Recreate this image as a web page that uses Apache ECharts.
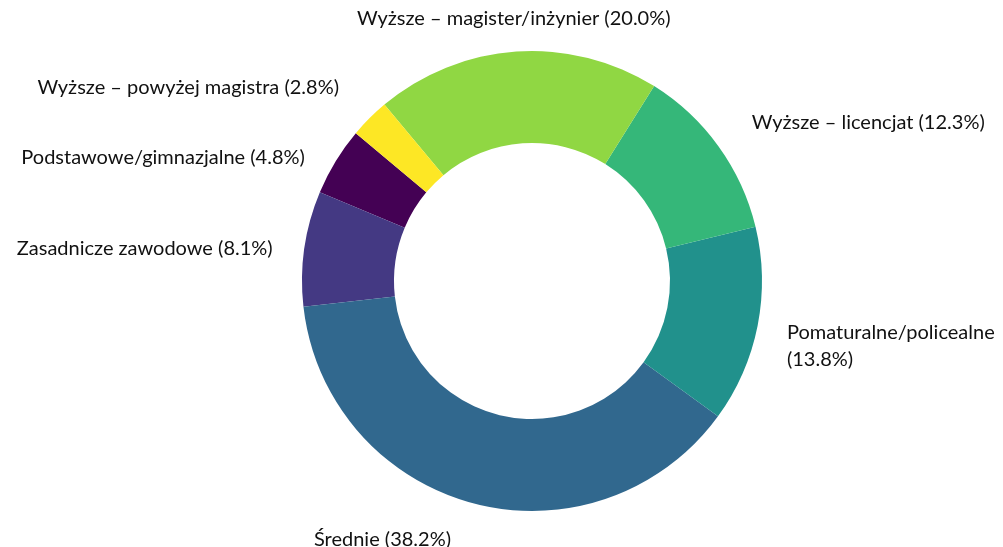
<!DOCTYPE html>
<html>
<head>
<meta charset="utf-8">
<script src="https://cdn.jsdelivr.net/npm/echarts@6/dist/echarts.min.js"></script>
<style>
    html, body { margin: 0; padding: 0; background: #fff; }
    #chart { width: 1003px; height: 547px; }
</style>
</head>
<body>
<div id="chart"></div>
<script>
// udział wykształcenia (%), kolejność jak w danych, rysowane przeciwnie do wskazówek zegara
const categories = [
    "Podstawowe/gimnazjalne",
    "Zasadnicze zawodowe",
    "Średnie",
    "Pomaturalne/policealne",
    "Wyższe – licencjat",
    "Wyższe – magister/inżynier",
    "Wyższe – powyżej magistra"
];
const shares = [4.8, 8.1, 38.2, 13.8, 12.3, 20.0, 2.8];
const colors = ["#440154", "#443983", "#31688e", "#21918c", "#35b779", "#90d743", "#fde725"];

// drobne przesunięcia podpisów [dx, dy], żeby siedziały jak w oryginale
const labelShift = [[0, 15], [4, 5], [-13, 1], [-6, 13], [4, -3], [0, 3], [-5, -5]];

const chart = echarts.init(document.getElementById("chart"));

chart.setOption({
    backgroundColor: "#fff",
    animation: false,
    color: colors,
    series: {
        type: "pie",
        center: [532, 281],
        radius: [138, 230],
        startAngle: 140,
        clockwise: false,
        avoidLabelOverlap: false,
        itemStyle: { borderWidth: 0 },
        label: {
            show: true,
            position: "outside",
            distanceToLabelLine: 0,
            fontFamily: "Lato",
            fontSize: 20,
            lineHeight: 27,
            color: "#111",
            formatter: p => {
                // ten jeden podpis łamie się w oryginale
                const sep = p.name === "Pomaturalne/policealne" ? "\n" : " ";
                return p.name + sep + "(" + p.value.toFixed(1) + "%)";
            }
        },
        labelLine: { show: false, length: 36, length2: 0 },
        labelLayout: p => {
            const s = labelShift[p.dataIndex];
            const out = { dx: s[0], dy: s[1] };
            // podpis u góry jest wyśrodkowany
            if (p.dataIndex === 5) out.align = "center";
            return out;
        },
        data: categories.map((name, i) => ({ name: name, value: shares[i] }))
    }
});
</script>
</body>
</html>
